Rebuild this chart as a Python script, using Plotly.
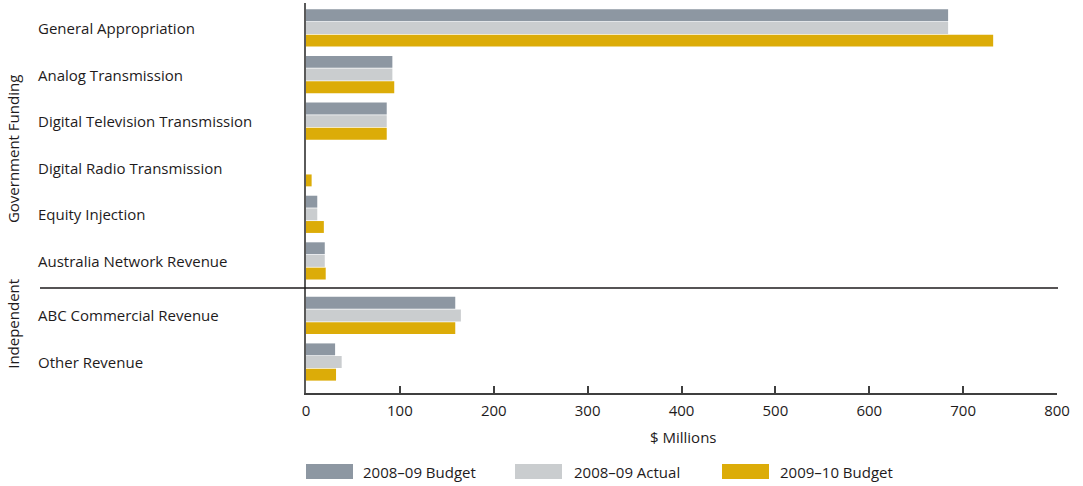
import plotly.graph_objects as go

# Funding sources, top to bottom
categories = [
    "General Appropriation",
    "Analog Transmission",
    "Digital Television Transmission",
    "Digital Radio Transmission",
    "Equity Injection",
    "Australia Network Revenue",
    "ABC Commercial Revenue",
    "Other Revenue",
]
# Row positions: a wider gap separates the two funding groups
row_pos = [0, 1, 2, 3, 4, 5, 6.17, 7.17]

series_names = ["2008–09 Budget", "2008–09 Actual", "2009–10 Budget"]
budget_0809 = [684, 92, 86, 0, 12, 20, 159, 31]
actual_0809 = [684, 92, 86, 0, 12, 20, 165, 38]
budget_0910 = [732, 94, 86, 6, 19, 21, 159, 32]
series_values = [budget_0809, actual_0809, budget_0910]
series_colors = ["#8D97A2", "#CACDCF", "#DCAC08"]

group_labels = ["Government Funding", "Independent"]
group_centers = [2.6, 6.35]
separator_pos = 5.58

x_ticks = [0, 100, 200, 300, 400, 500, 600, 700, 800]

W, H = 1083, 486
L, R, T, B = 306, 26, 3, 93
PW, PH = W - L - R, H - T - B
FONT = "Open Sans"
TXT = "#1E1B1C"


def px_x(px):
    return (px - L) / PW


def px_y(py):
    return (H - B - py) / PH


fig = go.Figure()
for name, vals, col in zip(series_names, series_values, series_colors):
    fig.add_trace(go.Bar(
        y=row_pos, x=vals, orientation="h", name=name,
        marker=dict(color=col, line=dict(width=0)),
        showlegend=False, hoverinfo="x+name",
    ))

annotations = []
for cat, pos in zip(categories, row_pos):
    annotations.append(dict(
        x=px_x(36), y=pos, xref="paper", yref="y", text=cat,
        showarrow=False, xanchor="left", yanchor="middle",
        font=dict(family=FONT, size=15, color=TXT),
    ))
for lab, pos in zip(group_labels, group_centers):
    annotations.append(dict(
        x=px_x(13), y=pos, xref="paper", yref="y", text=lab,
        showarrow=False, textangle=-90, xanchor="center", yanchor="middle",
        font=dict(family=FONT, size=15, color=TXT),
    ))
annotations.append(dict(
    x=px_x(683), y=px_y(437), xref="paper", yref="paper", text="$ Millions",
    showarrow=False, xanchor="center", yanchor="middle",
    font=dict(family=FONT, size=15, color=TXT),
))

shapes = [dict(
    type="line", xref="paper", yref="y",
    x0=px_x(40), x1=px_x(1058), y0=separator_pos, y1=separator_pos,
    line=dict(color=TXT, width=1.5),
)]

# Legend swatches and labels
legend_px = [(306, 361), (515, 572), (722, 778)]
for (rx, tx), name, col in zip(legend_px, series_names, series_colors):
    shapes.append(dict(
        type="rect", xref="paper", yref="paper",
        x0=px_x(rx), x1=px_x(rx + 47), y0=px_y(479), y1=px_y(464),
        fillcolor=col, line=dict(width=0),
    ))
    annotations.append(dict(
        x=px_x(tx), y=px_y(471.5), xref="paper", yref="paper", text=name,
        showarrow=False, xanchor="left", yanchor="middle",
        font=dict(family=FONT, size=15, color=TXT),
    ))

fig.update_layout(
    width=W, height=H,
    margin=dict(l=L, r=R, t=T, b=B),
    paper_bgcolor="white", plot_bgcolor="white",
    barmode="group", bargap=0.185, bargroupgap=0.06,
    font=dict(family=FONT, size=15, color=TXT),
    annotations=annotations, shapes=shapes,
    xaxis=dict(
        range=[0, 800], tickvals=x_ticks, showgrid=False, zeroline=False,
        showline=True, linecolor="#3F3F3F", linewidth=1.5,
        ticks="inside", ticklen=7, tickcolor="#3F3F3F", tickwidth=1.5,
        ticklabelstandoff=3,
        tickfont=dict(family=FONT, size=15, color=TXT),
    ),
    yaxis=dict(
        range=[7.835, -0.536], showticklabels=False, showgrid=False,
        zeroline=False, showline=True, linecolor="#5A5A5A", linewidth=2,
        ticks="",
    ),
)

fig.write_html("out.html")
